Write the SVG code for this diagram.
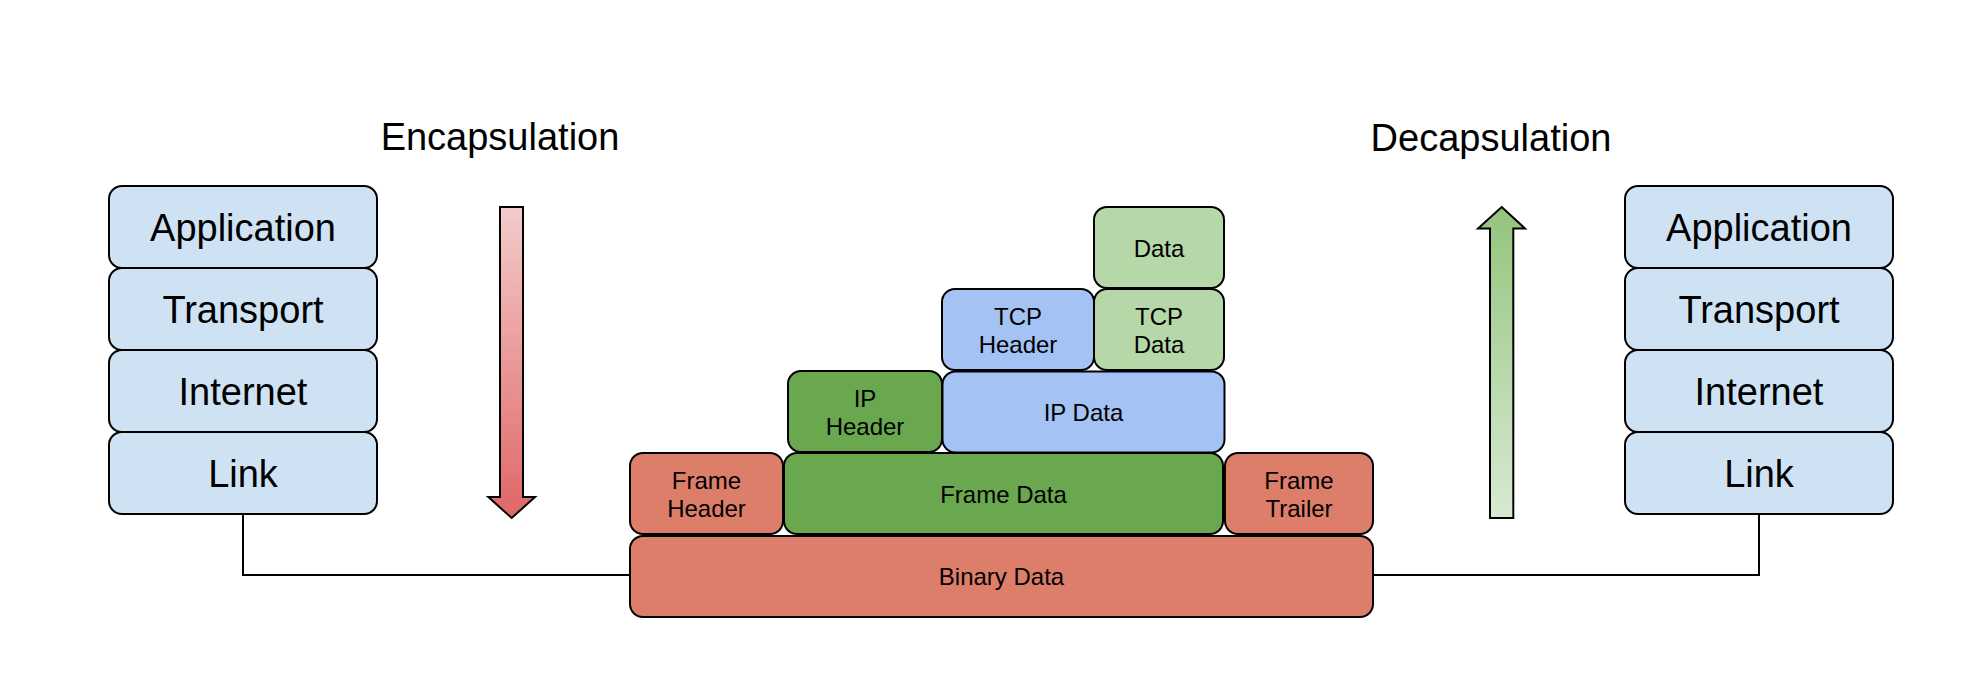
<svg xmlns="http://www.w3.org/2000/svg" width="1966" height="684" viewBox="0 0 1966 684">
<defs>
<linearGradient id="gDown" x1="0" y1="0" x2="0" y2="1">
<stop offset="0" stop-color="#f4cccc"/>
<stop offset="1" stop-color="#e06666"/>
</linearGradient>
<linearGradient id="gUp" x1="0" y1="0" x2="0" y2="1">
<stop offset="0" stop-color="#93c47d"/>
<stop offset="1" stop-color="#d9ead3"/>
</linearGradient>
</defs>
<style>
.box{stroke:#000;stroke-width:2}
.lb{fill:#cfe2f3}
.red{fill:#dd7e6b}
.grn{fill:#6aa84f}
.blu{fill:#a4c2f4}
.lg{fill:#b6d7a8}
.big{font-family:"Liberation Sans",Arial,sans-serif;font-size:38px;fill:#000;text-anchor:middle}
.sm{font-family:"Liberation Sans",Arial,sans-serif;font-size:24px;fill:#000;text-anchor:middle}
.conn{fill:none;stroke:#000;stroke-width:2}
.arr{stroke:#000;stroke-width:2;stroke-linejoin:miter}
</style>
<rect width="1966" height="684" fill="#fff"/>
<g id="connectors">
<polyline class="conn" points="243,514 243,575 630,575"/>
<polyline class="conn" points="1759,514 1759,575 1373,575"/>
</g>
<g id="title-encapsulation"><text class="big" x="500" y="150">Encapsulation</text></g>
<g id="title-decapsulation"><text class="big" x="1491" y="151">Decapsulation</text></g>
<g id="arrow-down"><polygon class="arr" fill="url(#gDown)" points="500,207 523,207 523,497 535,497 511.7,518 488.3,497 500,497"/></g>
<g id="arrow-up"><polygon class="arr" fill="url(#gUp)" points="1501.7,207 1525,228.5 1513.3,228.5 1513.3,518 1490,518 1490,228.5 1478,228.5"/></g>
<g id="left-application"><rect class="box lb" x="109" y="186" width="268" height="82" rx="13"/><text class="big" x="243" y="241">Application</text></g>
<g id="left-transport"><rect class="box lb" x="109" y="268" width="268" height="82" rx="13"/><text class="big" x="243" y="323">Transport</text></g>
<g id="left-internet"><rect class="box lb" x="109" y="350" width="268" height="82" rx="13"/><text class="big" x="243" y="405">Internet</text></g>
<g id="left-link"><rect class="box lb" x="109" y="432" width="268" height="82" rx="13"/><text class="big" x="243" y="487">Link</text></g>
<g id="right-application"><rect class="box lb" x="1625" y="186" width="268" height="82" rx="13"/><text class="big" x="1759" y="241">Application</text></g>
<g id="right-transport"><rect class="box lb" x="1625" y="268" width="268" height="82" rx="13"/><text class="big" x="1759" y="323">Transport</text></g>
<g id="right-internet"><rect class="box lb" x="1625" y="350" width="268" height="82" rx="13"/><text class="big" x="1759" y="405">Internet</text></g>
<g id="right-link"><rect class="box lb" x="1625" y="432" width="268" height="82" rx="13"/><text class="big" x="1759" y="487">Link</text></g>
<g id="data"><rect class="box lg" x="1094" y="207" width="130" height="81" rx="13"/><text class="sm" x="1159" y="256.5">Data</text></g>
<g id="tcp-header"><rect class="box blu" x="942" y="289" width="152" height="81" rx="13"/><text class="sm" x="1018" y="325">TCP</text><text class="sm" x="1018" y="352.5">Header</text></g>
<g id="tcp-data"><rect class="box lg" x="1094" y="289" width="130" height="81" rx="13"/><text class="sm" x="1159" y="325">TCP</text><text class="sm" x="1159" y="352.5">Data</text></g>
<g id="ip-header"><rect class="box grn" x="788" y="371" width="154" height="81" rx="13"/><text class="sm" x="865" y="407">IP</text><text class="sm" x="865" y="434.5">Header</text></g>
<g id="ip-data"><rect class="box blu" x="942.5" y="371.5" width="282" height="81" rx="13"/><text class="sm" x="1083.5" y="421">IP Data</text></g>
<g id="frame-header"><rect class="box red" x="630" y="453" width="153" height="81" rx="13"/><text class="sm" x="706.5" y="488.5">Frame</text><text class="sm" x="706.5" y="516.5">Header</text></g>
<g id="frame-data"><rect class="box grn" x="784" y="453" width="439" height="81" rx="13"/><text class="sm" x="1003.5" y="502.5">Frame Data</text></g>
<g id="frame-trailer"><rect class="box red" x="1225" y="453" width="148" height="81" rx="13"/><text class="sm" x="1299" y="488.5">Frame</text><text class="sm" x="1299" y="516.5">Trailer</text></g>
<g id="binary-data"><rect class="box red" x="630" y="536" width="743" height="81" rx="13"/><text class="sm" x="1001.5" y="584.5">Binary Data</text></g>
</svg>
